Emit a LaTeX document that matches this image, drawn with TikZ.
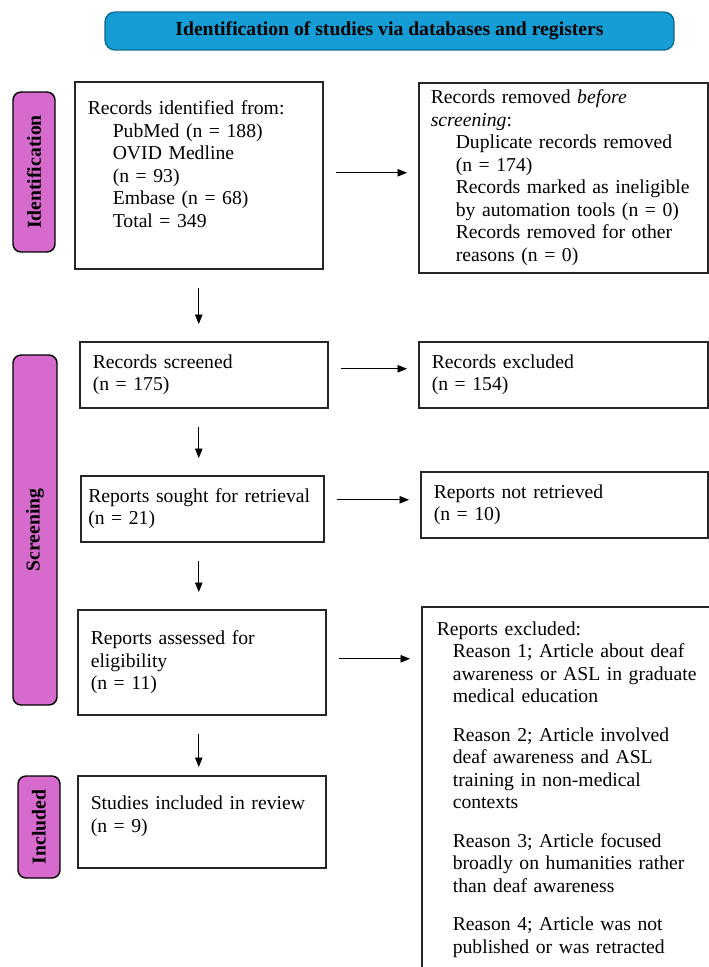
\documentclass[tikz,border=0pt]{standalone}
\usepackage{fontspec}
\setmainfont{Liberation Serif}
\usetikzlibrary{arrows.meta}
\usepackage{xcolor}
\definecolor{headblue}{RGB}{22,157,214}
\definecolor{stagepink}{RGB}{214,106,205}
\newcommand{\indA}{\hspace*{0.5cm}}
\newcommand{\indB}{\hspace*{0.32cm}}

\begin{document}
\begin{tikzpicture}[x=0.02cm, y=-0.02cm,
        box/.style={draw=black!85, line width=0.9pt, anchor=north west, align=left,
            inner xsep=0.26cm, inner ysep=0pt, font=\fontsize{11.2}{12.8}\selectfont},
        stage/.style={draw=black, line width=0.8pt, fill=stagepink, rounded corners=0.16cm,
            rotate=90, inner sep=0pt, font=\fontsize{11.2}{13}\selectfont\bfseries},
        arr/.style={-{Triangle[length=0.19cm, width=0.15cm]}, line width=0.5pt},
        harr/.style={arr, shorten <=0.24cm, shorten >=0.22cm},
        varr/.style={arr, shorten <=0.36cm, shorten >=0.34cm}]
        \useasboundingbox (0,0) rectangle (709,967);

        % 見出し
        \node[draw=headblue!70!black, line width=0.8pt, fill=headblue, rounded corners=0.2cm,
            minimum width=11.38cm, minimum height=0.76cm, inner sep=0pt,
            font=\fontsize{11.2}{13}\selectfont\bfseries] (head) at (389.5,31)
            {Identification of studies via databases and registers};

        % 段階ラベル
        \node[stage, minimum width=3.2cm, minimum height=0.84cm] (lblid) at (34,172) {Identification};
        \node[stage, minimum width=7.0cm, minimum height=0.88cm] (lblscr) at (35,530) {Screening};
        \node[stage, minimum width=2.04cm, minimum height=0.84cm] (lblinc) at (39,827) {Included};

        % 左の列
        \node[box, text width=4.44cm, minimum height=3.74cm] (ident) at (74,81)
            {Records identified from:\\
             \indA PubMed (n = 188)\\
             \indA OVID Medline\\
             \indA (n = 93)\\
             \indA Embase (n = 68)\\
             \indA Total = 349\\
             \mbox{}};
        \node[box, text width=4.44cm, minimum height=1.32cm] (screened) at (79,341)
            {Records screened\\(n = 175)};
        \node[box, text width=4.56cm, inner xsep=0.15cm, minimum height=1.32cm] (sought) at (80,475)
            {Reports sought for retrieval\\(n = 21)};
        \node[box, text width=4.44cm, minimum height=2.1cm] (assessed) at (77,609)
            {Reports assessed for\\eligibility\\(n = 11)};
        \node[box, text width=4.44cm, minimum height=1.84cm] (included) at (77,775)
            {Studies included in review\\(n = 9)\\[-4pt]\mbox{}};

        % 右の列
        \node[box, text width=5.3cm, minimum height=3.8cm, inner xsep=0.24cm] (removed) at (418,82)
            {Records removed \textit{before}\\
             \textit{screening}:\\
             \indA Duplicate records removed\\
             \indA (n = 174)\\
             \indA Records marked as ineligible\\
             \indA by automation tools (n = 0)\\
             \indA Records removed for other\\
             \indA reasons (n = 0)};
        \node[box, text width=5.26cm, minimum height=1.32cm] (excluded) at (418,341)
            {Records excluded\\(n = 154)};
        \node[box, text width=5.22cm, minimum height=1.32cm] (notret) at (420,471)
            {Reports not retrieved\\(n = 10)};
        \node[box, text width=5.3cm, inner xsep=0.3cm, inner ysep=0.3cm] (repexc) at (421,606)
            {Reports excluded:\\
             \indB Reason 1; Article about deaf\\
             \indB awareness or ASL in graduate\\
             \indB medical education\\[0.32cm]
             \indB Reason 2; Article involved\\
             \indB deaf awareness and ASL\\
             \indB training in non-medical\\
             \indB contexts\\[0.32cm]
             \indB Reason 3; Article focused\\
             \indB broadly on humanities rather\\
             \indB than deaf awareness\\[0.32cm]
             \indB Reason 4; Article was not\\
             \indB published or was retracted\\
             \mbox{}\\ \mbox{}};

        % 矢印（下向き）
        \draw[varr] (ident.south) -- (ident.south |- screened.north);
        \draw[varr] (screened.south -| ident.south) -- (ident.south |- sought.north);
        \draw[varr] (sought.south -| ident.south) -- (ident.south |- assessed.north);
        \draw[varr, shorten >=0.16cm] (assessed.south -| ident.south) -- (ident.south |- included.north);

        % 矢印（右向き）
        \draw[harr] ([yshift=0.05cm]ident.east) -- ([yshift=0.05cm]ident.east -| removed.west);
        \draw[harr] ([yshift=0.12cm]screened.east) -- ([yshift=0.12cm]screened.east -| excluded.west);
        \draw[harr] ([yshift=0.18cm]sought.east) -- ([yshift=0.18cm]sought.east -| notret.west);
        \draw[harr] ([yshift=0.07cm]assessed.east) -- ([yshift=0.07cm]assessed.east -| repexc.west);
    \end{tikzpicture}
\end{document}
